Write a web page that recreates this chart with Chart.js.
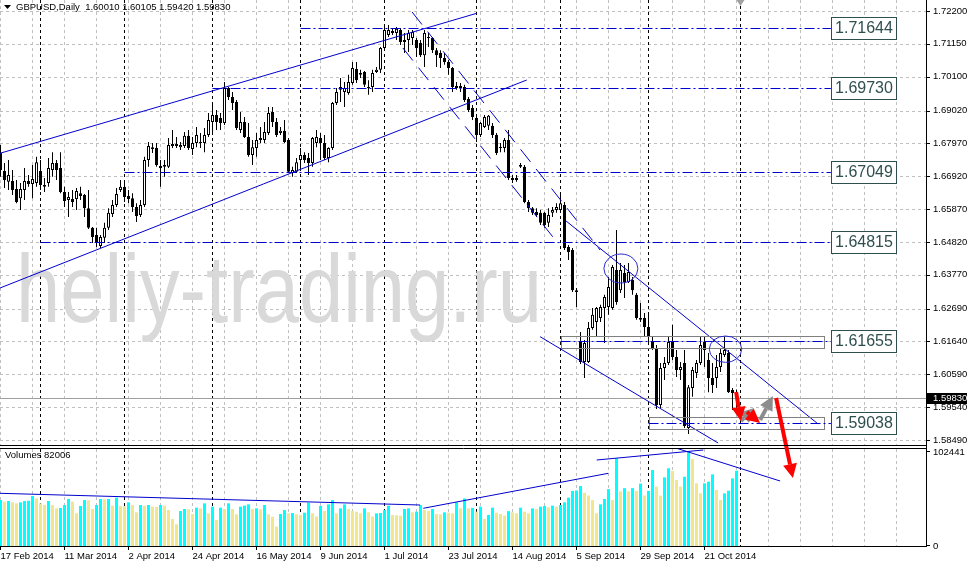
<!DOCTYPE html>
<html>
<head>
<meta charset="utf-8">
<script src="https://cdn.jsdelivr.net/npm/chart.js@4.4.1/dist/chart.umd.min.js"></script>
<style>
  html, body { margin:0; padding:0; background:#ffffff; overflow:hidden; }
  #stage { position:relative; width:967px; height:566px; }
  #volBox { position:absolute; left:0; top:446px; width:967px; height:120px; z-index:1; }
  #mainBox { position:absolute; left:0; top:0; width:967px; height:566px; z-index:2; pointer-events:none; }
</style>
</head>
<body>
<div id="stage">
  <div id="volBox"><canvas id="volChart"></canvas></div>
  <div id="mainBox"><canvas id="mainChart"></canvas></div>
</div>
<script>
// ---------------- DATA ----------------
const symbolTitle = 'GBPUSD,Daily  1.60010 1.60105 1.59420 1.59830';
const volumeTitle = 'Volumes 82006';
const watermark = 'heliy-trading.ru';

const opens = [
1.6766,1.6709,1.6674,1.6677,1.6651,1.6622,1.6648,1.6677,1.6667,1.6670,
1.6709,1.6658,1.6670,1.6712,1.6734,1.6718,1.6642,1.6616,1.6619,1.6619,
1.6638,1.6632,1.6590,1.6527,1.6504,1.6469,1.6495,1.6527,1.6571,1.6600,
1.6648,1.6658,1.6629,1.6622,1.6594,1.6568,1.6600,1.6744,1.6785,1.6782,
1.6718,1.6728,1.6722,1.6789,1.6795,1.6785,1.6789,1.6821,1.6779,1.6798,
1.6801,1.6798,1.6824,1.6865,1.6888,1.6878,1.6862,1.6974,1.6945,1.6929,
1.6840,1.6865,1.6817,1.6760,1.6782,1.6808,1.6808,1.6830,1.6897,1.6865,
1.6830,1.6837,1.6808,1.6702,1.6706,1.6744,1.6760,1.6750,1.6734,1.6798,
1.6814,1.6798,1.6750,1.6782,1.6926,1.6968,1.6961,1.6958,1.6990,1.7035,
1.7016,1.7025,1.6974,1.6977,1.7025,1.7032,1.7102,1.7143,1.7150,1.7150,
1.7159,1.7121,1.7127,1.7134,1.7127,1.7118,1.7079,1.7137,1.7134,1.7095,
1.7086,1.7070,1.7057,1.7038,1.6980,1.6974,1.6977,1.6939,1.6910,1.6878,
1.6824,1.6849,1.6853,1.6853,1.6824,1.6782,1.6782,1.6808,1.6680,1.6686,
1.6722,1.6722,1.6610,1.6590,1.6578,1.6575,1.6575,1.6543,1.6575,1.6584,
1.6584,1.6600,1.6466,1.6456,1.6328,1.6162,1.6098,1.6098,1.6207,1.6226,
1.6239,1.6271,1.6274,1.6271,1.6392,1.6328,1.6383,1.6354,1.6360,1.6313,
1.6239,1.6239,1.6210,1.6162,1.6143,1.5961,1.6079,1.6095,1.6162,1.6114,
1.6073,1.6095,1.5887,1.6015,1.6063,1.6095,1.6162,1.6105,1.6047,1.6047,
1.6082,1.6121,1.6127,1.6009,1.60010];
const highs = [
1.6792,1.6734,1.6744,1.6712,1.6680,1.6670,1.6718,1.6696,1.6728,1.6754,
1.6744,1.6686,1.6750,1.6769,1.6744,1.6769,1.6658,1.6642,1.6648,1.6654,
1.6658,1.6635,1.6648,1.6530,1.6527,1.6504,1.6543,1.6590,1.6616,1.6654,
1.6680,1.6680,1.6648,1.6638,1.6606,1.6616,1.6754,1.6801,1.6798,1.6798,
1.6744,1.6744,1.6814,1.6840,1.6817,1.6801,1.6833,1.6840,1.6817,1.6849,
1.6830,1.6846,1.6894,1.6920,1.6904,1.6894,1.6993,1.6977,1.6961,1.6936,
1.6897,1.6881,1.6862,1.6808,1.6830,1.6849,1.6865,1.6913,1.6913,1.6878,
1.6849,1.6872,1.6814,1.6722,1.6750,1.6782,1.6769,1.6766,1.6817,1.6840,
1.6830,1.6824,1.6785,1.6929,1.6974,1.7006,1.6993,1.7016,1.7057,1.7057,
1.7032,1.7028,1.6999,1.7032,1.7041,1.7105,1.7172,1.7175,1.7166,1.7169,
1.7166,1.7150,1.7159,1.7159,1.7134,1.7127,1.7159,1.7150,1.7137,1.7102,
1.7095,1.7086,1.7064,1.7041,1.6993,1.6990,1.6984,1.6945,1.6920,1.6888,
1.6865,1.6888,1.6888,1.6862,1.6830,1.6798,1.6814,1.6840,1.6696,1.6696,
1.6734,1.6728,1.6616,1.6594,1.6590,1.6584,1.6578,1.6590,1.6594,1.6606,
1.6642,1.6610,1.6472,1.6463,1.6335,1.6194,1.6169,1.6226,1.6271,1.6274,
1.6281,1.6313,1.6370,1.6408,1.6520,1.6415,1.6408,1.6415,1.6370,1.6319,
1.6287,1.6255,1.6249,1.6178,1.6153,1.6095,1.6114,1.6178,1.6217,1.6137,
1.6098,1.6137,1.6025,1.6082,1.6105,1.6178,1.6178,1.6127,1.6095,1.6121,
1.6143,1.6178,1.6137,1.6015,1.60105];
const lows = [
1.6690,1.6654,1.6648,1.6632,1.6606,1.6584,1.6616,1.6658,1.6622,1.6658,
1.6648,1.6642,1.6658,1.6690,1.6680,1.6638,1.6594,1.6562,1.6594,1.6584,
1.6616,1.6562,1.6523,1.6479,1.6466,1.6463,1.6479,1.6520,1.6562,1.6594,
1.6642,1.6610,1.6606,1.6578,1.6546,1.6562,1.6594,1.6722,1.6766,1.6722,
1.6658,1.6690,1.6718,1.6782,1.6782,1.6776,1.6782,1.6776,1.6760,1.6785,
1.6782,1.6769,1.6817,1.6830,1.6840,1.6840,1.6856,1.6936,1.6904,1.6840,
1.6830,1.6814,1.6754,1.6728,1.6754,1.6798,1.6798,1.6824,1.6849,1.6817,
1.6824,1.6798,1.6702,1.6690,1.6702,1.6718,1.6734,1.6696,1.6722,1.6785,
1.6744,1.6744,1.6737,1.6776,1.6920,1.6929,1.6913,1.6952,1.6984,1.6990,
1.7006,1.6977,1.6952,1.6961,1.7022,1.7022,1.7095,1.7137,1.7143,1.7127,
1.7111,1.7086,1.7089,1.7111,1.7073,1.7073,1.7041,1.7105,1.7086,1.7041,
1.7038,1.7048,1.7016,1.6961,1.6968,1.6961,1.6929,1.6897,1.6872,1.6801,
1.6817,1.6846,1.6840,1.6814,1.6760,1.6769,1.6769,1.6680,1.6670,1.6674,
1.6718,1.6606,1.6578,1.6568,1.6562,1.6536,1.6527,1.6530,1.6562,1.6575,
1.6578,1.6456,1.6424,1.6322,1.6274,1.6092,1.6047,1.6095,1.6201,1.6178,
1.6226,1.6159,1.6249,1.6265,1.6281,1.6319,1.6303,1.6351,1.6313,1.6233,
1.6226,1.6178,1.6159,1.6137,1.5948,1.5951,1.6041,1.6089,1.6105,1.6050,
1.6041,1.5887,1.5868,1.5987,1.6047,1.6089,1.6082,1.6002,1.5999,1.6015,
1.6066,1.6114,1.5999,1.5945,1.59420];
const closes = [
1.6712,1.6680,1.6696,1.6648,1.6610,1.6651,1.6677,1.6667,1.6683,1.6737,
1.6664,1.6664,1.6718,1.6734,1.6712,1.6642,1.6613,1.6626,1.6610,1.6645,
1.6629,1.6590,1.6527,1.6498,1.6479,1.6498,1.6527,1.6575,1.6600,1.6635,
1.6658,1.6626,1.6619,1.6594,1.6565,1.6600,1.6744,1.6789,1.6779,1.6728,
1.6725,1.6722,1.6792,1.6795,1.6789,1.6792,1.6821,1.6782,1.6798,1.6824,
1.6798,1.6824,1.6872,1.6888,1.6865,1.6862,1.6974,1.6945,1.6926,1.6846,
1.6865,1.6817,1.6760,1.6785,1.6808,1.6814,1.6833,1.6894,1.6865,1.6824,
1.6837,1.6801,1.6706,1.6712,1.6737,1.6760,1.6744,1.6734,1.6814,1.6817,
1.6798,1.6750,1.6782,1.6926,1.6961,1.6977,1.6974,1.6993,1.7038,1.6999,
1.7022,1.6984,1.6977,1.7022,1.7032,1.7102,1.7159,1.7159,1.7156,1.7163,
1.7121,1.7127,1.7150,1.7153,1.7102,1.7079,1.7150,1.7134,1.7095,1.7079,
1.7070,1.7057,1.7038,1.6977,1.6974,1.6980,1.6936,1.6904,1.6881,1.6824,
1.6862,1.6881,1.6885,1.6824,1.6766,1.6785,1.6808,1.6686,1.6686,1.6680,
1.6728,1.6610,1.6590,1.6575,1.6568,1.6543,1.6536,1.6568,1.6584,1.6594,
1.6606,1.6463,1.6450,1.6328,1.6322,1.6098,1.6159,1.6207,1.6249,1.6271,
1.6274,1.6306,1.6338,1.6402,1.6290,1.6392,1.6354,1.6386,1.6328,1.6239,
1.6233,1.6210,1.6178,1.6143,1.5961,1.6079,1.6095,1.6162,1.6114,1.6073,
1.6082,1.5894,1.6018,1.6073,1.6095,1.6153,1.6137,1.6047,1.6025,1.6082,
1.6127,1.6137,1.6002,1.5999,1.59830];
const volumes = [
50100,48300,49000,47600,46500,47600,49000,49400,54500,51900,
46500,44700,49000,44700,41000,41400,44700,51200,48300,35600,
43600,50100,49800,40300,44700,51200,51000,51200,44000,52700,
43600,43300,47600,44700,36700,44700,44000,44700,42900,42600,
44700,44000,39200,29400,23600,38100,40300,40000,34900,41800,
41000,46500,35600,42900,28300,41800,40300,46500,40300,34500,
42900,44000,45400,40300,41000,40000,44700,34500,32000,21100,
34900,39200,35600,36000,34500,33800,36300,47200,35600,32000,
43600,38100,45400,50100,35600,41000,45400,40300,38100,37400,
35600,41000,36700,32000,35600,35900,39200,44000,33800,33500,
33000,40300,41000,36700,37400,44700,39200,38100,40300,34900,
34500,36700,36300,35600,47600,41000,51900,41000,41500,37400,
42900,29400,33800,41800,36300,34900,33100,38000,36700,35600,
41800,37400,35600,41000,40300,42900,43600,42200,44000,42900,
44700,47600,52700,60000,60500,65400,57900,55000,50000,35600,
45400,51200,62000,50000,95500,59600,63000,59600,63000,60000,
68000,55000,60000,82800,64700,54900,74800,84700,81700,71900,
64700,75500,102441,94800,68300,57400,68300,70100,78100,61000,
50100,57400,60300,73700,82006];

const dateTickIdx = [0,16,32,48,64,80,96,112,128,144,160,176];
const dateTickLabels = ['17 Feb 2014','11 Mar 2014','2 Apr 2014','24 Apr 2014','16 May 2014','9 Jun 2014','1 Jul 2014','23 Jul 2014','14 Aug 2014','5 Sep 2014','29 Sep 2014','21 Oct 2014'];
const monthStartIdx = [10,31,53,75,96,119,140,162,185];
const chartShiftIdx = 185;

const priceTicks = [1.72200,1.71150,1.70100,1.69020,1.67970,1.66920,1.65870,1.64820,1.63770,1.62690,1.61640,1.60590,1.59540,1.58490];
const priceTickLabels = ['1.72200','1.71150','1.70100','1.69020','1.67970','1.66920','1.65870','1.64820','1.63770','1.62690','1.61640','1.60590','1.59540','1.58490'];
const volTicks = [102441, 0];
const volTickLabels = ['102441','0'];
const lastPriceLabel = '1.59830';

// horizontal levels (price, first bar index) and their price tags
const levelPrices = [1.71644, 1.69730, 1.67049, 1.64815, 1.61655, 1.59038];
const levelLabels = ['1.71644','1.69730','1.67049','1.64815','1.61655','1.59038'];
const levelStartIdx = [75, 53, 31, 10, 140, 162];
const levelTagIdx = [207.6, 223.9];
// grey zones [fromIdx, toIdx, topPrice, bottomPrice]
const zones = [[140, 205.9, 1.61814, 1.61431], [162, 205.9, 1.59226, 1.58843]];
// trend lines [idx1, price1, idx2, price2]
const trendSolid = [
  [-0.125, 1.67653, 119.05, 1.72127],
  [-0.125, 1.63348, 131.55, 1.69995],
  [141.4, 1.65489, 204.4, 1.59002],
  [134.9, 1.61792, 179.4, 1.58395]
];
const trendDashed = [
  [102.9, 1.72168, 149.9, 1.64562],
  [100.6, 1.71018, 138.9, 1.64850]
];
// ellipses [centerIdx, centerPrice, radiusIdx, radiusPrice]
const ellipses = [[155.1, 1.63971, 4.25, 0.00463], [181.25, 1.61392, 4.05, 0.00422]];
// arrows [idx1, price1, idx2, price2]
const redArrows = [[183.9, 1.60025, 185.1, 1.59098], [186.6, 1.59385, 189.9, 1.59034], [193.9, 1.59833, 198.1, 1.57276]];
const greyArrows = [[185.1, 1.59098, 188.4, 1.59513], [189.9, 1.59130, 193.1, 1.59897]];
// volume trend lines [idx1, vol1, idx2, vol2]
const volTrend = [
  [-0.125, 57430, 104.9, 44680],
  [105.7, 41090, 151.95, 79230],
  [149.05, 93720, 175.7, 104620],
  [169.05, 106470, 194.9, 70840]
];

// ---------------- LAYOUT / STYLE ----------------
const FONT = "'Liberation Sans', Arial, sans-serif";
const xMin = -0.125, xMax = 231.375;
const priceTop = 1.72552, pricePerPx = 0.00031958, mainH = 446;
const priceBottom = priceTop - mainH * pricePerPx;
const volPerPx = 1089.8, volH = 97;
const volTop = volH * volPerPx;
const BLUE = '#0000cd';
const idx = opens.map((_, i) => i);

function dashLine(ctx, x1, y1, x2, y2, color, dash, w) {
  ctx.save(); ctx.beginPath(); ctx.strokeStyle = color; ctx.lineWidth = w || 1;
  ctx.setLineDash(dash || []); ctx.moveTo(x1, y1); ctx.lineTo(x2, y2); ctx.stroke(); ctx.restore();
}
function arrow(ctx, x1, y1, x2, y2, color) {
  const a = Math.atan2(y2 - y1, x2 - x1), hl = 14, hw = 7;
  const bx = x2 - hl * Math.cos(a), by = y2 - hl * Math.sin(a);
  ctx.save(); ctx.strokeStyle = color; ctx.fillStyle = color; ctx.lineWidth = 4; ctx.lineCap = 'butt';
  ctx.beginPath(); ctx.moveTo(x1, y1); ctx.lineTo(bx, by); ctx.stroke();
  ctx.beginPath(); ctx.moveTo(x2, y2);
  ctx.lineTo(bx + hw * Math.sin(a), by - hw * Math.cos(a));
  ctx.lineTo(bx - hw * Math.sin(a), by + hw * Math.cos(a));
  ctx.closePath(); ctx.fill(); ctx.restore();
}

const mainDecor = {
  id: 'mainDecor',
  beforeDatasetsDraw(chart) {
    const {ctx, chartArea: a, scales: {x, y}} = chart;
    priceTicks.forEach(p => { const yy = Math.round(y.getPixelForValue(p)) + 0.5; dashLine(ctx, a.left, yy, a.right, yy, '#c0c0c0', [3, 3]); });
    for (let k = 0; k <= 224; k += 8) { const xx = x.getPixelForValue(k); dashLine(ctx, xx, a.top, xx, a.bottom, '#c0c0c0', [3, 3]); }
    monthStartIdx.forEach(m => { const xx = x.getPixelForValue(m); dashLine(ctx, xx, a.top, xx, a.bottom, '#000000', [3, 3]); });
    // watermark
    ctx.save(); ctx.fillStyle = '#d9d9d9'; ctx.font = `97px ${FONT}`; ctx.textBaseline = 'alphabetic';
    ctx.translate(16, 322); ctx.scale(0.82, 1); ctx.fillText(watermark, 0, 0); ctx.restore();
    // bid line
    const by = Math.round(y.getPixelForValue(closes[closes.length - 1])) + 0.5;
    dashLine(ctx, a.left, by, a.right, by, '#a0a0a0', []);
  },
  afterDatasetsDraw(chart) {
    const {ctx, scales: {x, y}} = chart;
    zones.forEach(z => {
      const x1 = Math.round(x.getPixelForValue(z[0])) + 0.5, x2 = Math.round(x.getPixelForValue(z[1])) + 0.5;
      const y1 = Math.round(y.getPixelForValue(z[2])) + 0.5, y2 = Math.round(y.getPixelForValue(z[3])) + 0.5;
      ctx.save(); ctx.strokeStyle = '#808080'; ctx.lineWidth = 1; ctx.strokeRect(x1, y1, x2 - x1, y2 - y1); ctx.restore();
    });
    const tagL = x.getPixelForValue(levelTagIdx[0]), tagR = x.getPixelForValue(levelTagIdx[1]);
    levelPrices.forEach((p, k) => {
      const yy = Math.round(y.getPixelForValue(p)) + 0.5;
      dashLine(ctx, x.getPixelForValue(levelStartIdx[k]), yy, tagL, yy, BLUE, [10, 3, 2, 3]);
    });
    ellipses.forEach(e => {
      const cx = x.getPixelForValue(e[0]), cy = y.getPixelForValue(e[1]);
      const rx = x.getPixelForValue(e[0] + e[2]) - cx, ry = cy - y.getPixelForValue(e[1] + e[3]);
      ctx.save(); ctx.strokeStyle = '#2a2ad0'; ctx.lineWidth = 1; ctx.beginPath(); ctx.ellipse(cx, cy, rx, ry, 0, 0, Math.PI * 2); ctx.stroke(); ctx.restore();
    });
    levelPrices.forEach((p, k) => {
      const yy = Math.round(y.getPixelForValue(p));
      const l = Math.round(tagL) + 0.5, r = Math.round(tagR) + 0.5;
      ctx.save(); ctx.fillStyle = '#ffffff'; ctx.fillRect(l, yy - 11, r - l, 22);
      ctx.strokeStyle = '#2f4f4f'; ctx.lineWidth = 1; ctx.strokeRect(l, yy - 10.5, r - l, 22);
      ctx.fillStyle = '#2f4f4f'; ctx.font = `16px ${FONT}`; ctx.textAlign = 'center'; ctx.textBaseline = 'middle';
      ctx.fillText(levelLabels[k], (l + r) / 2, yy + 1); ctx.restore();
    });
  },
  afterDraw(chart) {
    const {ctx, chartArea: a, scales: {x, y}} = chart;
    greyArrows.forEach(r => arrow(ctx, x.getPixelForValue(r[0]), y.getPixelForValue(r[1]), x.getPixelForValue(r[2]), y.getPixelForValue(r[3]), '#8c8c8c'));
    redArrows.forEach(r => arrow(ctx, x.getPixelForValue(r[0]), y.getPixelForValue(r[1]), x.getPixelForValue(r[2]), y.getPixelForValue(r[3]), '#ff0000'));
    // frame
    dashLine(ctx, a.left, a.bottom - 0.5, a.right + 1, a.bottom - 0.5, '#000', []);
    dashLine(ctx, a.right + 0.5, a.top, a.right + 0.5, a.bottom, '#000', []);
    priceTicks.forEach(p => { const yy = Math.round(y.getPixelForValue(p)) + 0.5; dashLine(ctx, a.right, yy, a.right + 4, yy, '#000', []); });
    // chart-shift marker
    const sx = x.getPixelForValue(chartShiftIdx);
    ctx.save(); ctx.fillStyle = '#a0a0a0'; ctx.beginPath(); ctx.moveTo(sx - 4, a.top); ctx.lineTo(sx + 4, a.top); ctx.lineTo(sx, a.top + 6); ctx.closePath(); ctx.fill(); ctx.restore();
    // title
    ctx.save(); ctx.fillStyle = '#000'; ctx.beginPath(); ctx.moveTo(4, 5); ctx.lineTo(11, 5); ctx.lineTo(7.5, 9); ctx.closePath(); ctx.fill();
    ctx.font = `9.5px ${FONT}`; ctx.textBaseline = 'middle'; ctx.fillText(symbolTitle, 16, 7.5); ctx.restore();
    // last price tag
    const ly = Math.round(y.getPixelForValue(closes[closes.length - 1]));
    ctx.save(); ctx.fillStyle = '#000'; ctx.fillRect(a.right + 1, ly - 5, 967 - a.right, 11);
    ctx.fillStyle = '#fff'; ctx.font = `9.5px ${FONT}`; ctx.textBaseline = 'middle'; ctx.fillText(lastPriceLabel, a.right + 7, ly + 0.5); ctx.restore();
  }
};

const mainDatasets = [
  { type: 'bar', data: idx.map(i => ({x: i, y: [lows[i], highs[i]]})), backgroundColor: '#000000', borderWidth: 0,
    barThickness: 1, grouped: false, inflateAmount: 0, order: 3 },
  { type: 'bar', data: idx.map(i => ({x: i, y: [opens[i], closes[i]]})),
    backgroundColor: idx.map(i => closes[i] >= opens[i] ? '#ffffff' : '#000000'), borderColor: '#000000', borderWidth: 1,
    borderSkipped: false, barThickness: 3, grouped: false, inflateAmount: 0, minBarLength: 1, order: 2 }
];
trendSolid.forEach(t => mainDatasets.push({ type: 'line', data: [{x: t[0], y: t[1]}, {x: t[2], y: t[3]}], borderColor: BLUE, borderWidth: 1, pointRadius: 0, order: 1 }));
trendDashed.forEach(t => mainDatasets.push({ type: 'line', data: [{x: t[0], y: t[1]}, {x: t[2], y: t[3]}], borderColor: BLUE, borderWidth: 1, borderDash: [16, 9], pointRadius: 0, order: 1 }));

new Chart(document.getElementById('mainChart'), {
  type: 'bar',
  data: { datasets: mainDatasets },
  options: {
    responsive: true, maintainAspectRatio: false, animation: false, devicePixelRatio: 1, events: [],
    layout: { padding: { left: 0, right: 0, top: 0, bottom: 566 - mainH }, autoPadding: false },
    plugins: { legend: { display: false }, tooltip: { enabled: false } },
    scales: {
      x: { type: 'linear', min: xMin, max: xMax, display: false, offset: false },
      y: { type: 'linear', position: 'right', min: priceBottom, max: priceTop,
        afterBuildTicks: s => { s.ticks = priceTicks.map(v => ({value: v})); },
        afterFit: s => { s.width = 41; s.paddingTop = 0; s.paddingBottom = 0; },
        grid: { display: false, drawTicks: false }, border: { display: false },
        ticks: { autoSkip: false, padding: 7, color: '#000', font: { family: FONT, size: 9.5 }, callback: (v, i) => priceTickLabels[i] } }
    }
  },
  plugins: [mainDecor]
});

const volDecor = {
  id: 'volDecor',
  beforeDatasetsDraw(chart) {
    const {ctx, chartArea: a, scales: {x}} = chart;
    for (let k = 0; k <= 224; k += 8) { const xx = x.getPixelForValue(k); dashLine(ctx, xx, a.top, xx, a.bottom, '#c0c0c0', [3, 3]); }
    monthStartIdx.forEach(m => { const xx = x.getPixelForValue(m); dashLine(ctx, xx, a.top, xx, a.bottom, '#000000', [3, 3]); });
  },
  afterDraw(chart) {
    const {ctx, chartArea: a, scales: {x, y}} = chart;
    dashLine(ctx, a.left, a.top - 0.5, a.right + 1, a.top - 0.5, '#000', []);
    dashLine(ctx, a.left, a.bottom + 0.5, a.right + 1, a.bottom + 0.5, '#000', []);
    dashLine(ctx, a.right + 0.5, 0, a.right + 0.5, a.bottom + 1, '#000', []);
    dateTickIdx.forEach(d => { const xx = x.getPixelForValue(d); dashLine(ctx, xx, a.bottom + 1, xx, a.bottom + 4, '#000', []); });
    volTicks.forEach(v => { const yy = Math.round(y.getPixelForValue(v)) - 0.5; dashLine(ctx, a.right, yy, a.right + 4, yy, '#000', []); });
    ctx.save(); ctx.fillStyle = '#000'; ctx.font = `9.5px ${FONT}`; ctx.textBaseline = 'middle'; ctx.fillText(volumeTitle, 5, a.top + 6.5); ctx.restore();
  }
};

const volDatasets = [
  { type: 'bar', data: idx.map(i => ({x: i, y: volumes[i]})),
    backgroundColor: idx.map(i => (i === 0 || volumes[i] > volumes[i - 1]) ? '#00ffff' : '#f0e68c'),
    borderWidth: 0, barThickness: 3, grouped: false, inflateAmount: 0, order: 2 }
];
volTrend.forEach(t => volDatasets.push({ type: 'line', data: [{x: t[0], y: t[1]}, {x: t[2], y: t[3]}], borderColor: BLUE, borderWidth: 1, pointRadius: 0, order: 1 }));

new Chart(document.getElementById('volChart'), {
  type: 'bar',
  data: { datasets: volDatasets },
  options: {
    responsive: true, maintainAspectRatio: false, animation: false, devicePixelRatio: 1, events: [],
    layout: { padding: { left: 0, right: 0, top: 3, bottom: 0 }, autoPadding: false },
    plugins: { legend: { display: false }, tooltip: { enabled: false } },
    scales: {
      x: { type: 'linear', position: 'bottom', min: xMin, max: xMax, offset: false,
        afterBuildTicks: s => { s.ticks = dateTickIdx.map(v => ({value: v})); },
        afterFit: s => { s.height = 20; s.paddingLeft = 0; s.paddingRight = 0; },
        grid: { display: false, drawTicks: false }, border: { display: false },
        ticks: { autoSkip: false, maxRotation: 0, minRotation: 0, align: 'start', padding: 5, color: '#000',
          font: { family: FONT, size: 9.5 }, callback: (v, i) => dateTickLabels[i] } },
      y: { type: 'linear', position: 'right', min: 0, max: volTop,
        afterBuildTicks: s => { s.ticks = volTicks.map(v => ({value: v})); },
        afterFit: s => { s.width = 41; s.paddingTop = 0; s.paddingBottom = 0; },
        grid: { display: false, drawTicks: false }, border: { display: false },
        ticks: { autoSkip: false, padding: 7, color: '#000', font: { family: FONT, size: 9.5 }, callback: (v, i) => volTickLabels[i] } }
    }
  },
  plugins: [volDecor]
});
</script>
</body>
</html>
